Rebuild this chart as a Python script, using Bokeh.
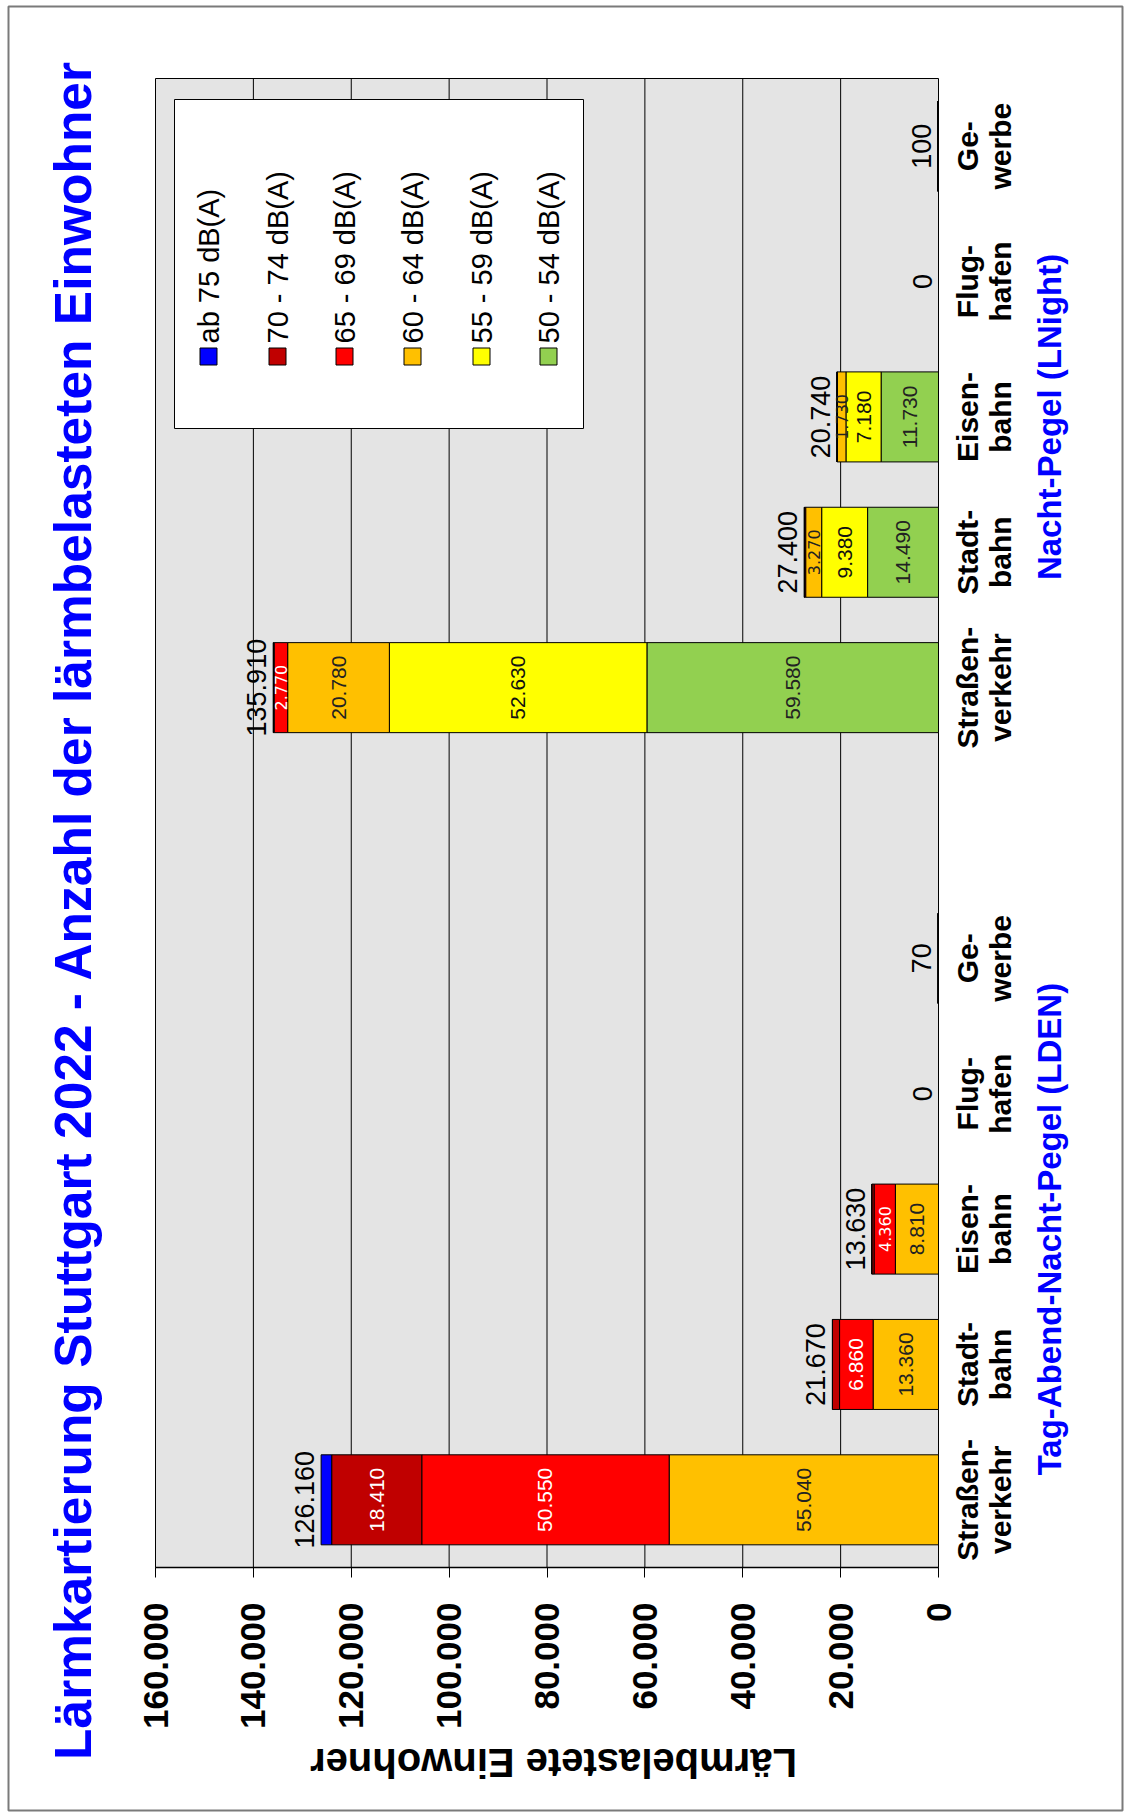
import math
from bokeh.plotting import figure
from bokeh.models import (ColumnDataSource, Range1d, FixedTicker, LinearAxis,
                          CustomJSTickFormatter)
from bokeh.core.properties import value
from bokeh.embed import file_html
from bokeh.resources import INLINE

# ---------------- data ----------------
categories = ["Straßen-\nverkehr", "Stadt-\nbahn", "Eisen-\nbahn", "Flug-\nhafen", "Ge-\nwerbe"]
groups = ["Tag-Abend-Nacht-Pegel (LDEN)", "Nacht-Pegel (LNight)"]

classes = ["50 - 54 dB(A)", "55 - 59 dB(A)", "60 - 64 dB(A)",
           "65 - 69 dB(A)", "70 - 74 dB(A)", "ab 75 dB(A)"]
colors = ["#92D050", "#FFFF00", "#FFC000", "#FF0000", "#C00000", "#0000FF"]
label_colors = ["#222222", "#111111", "#222222", "#FFFFFF", "#FFFFFF", "#FFFFFF"]

#            LDEN: Str,   Stadt, Eisen, Flug, Gew | LNight: Str, Stadt, Eisen, Flug, Gew
v_50_54 = [0,     0,     0,     0, 0,     59580, 14490, 11730, 0, 100]
v_55_59 = [0,     0,     0,     0, 0,     52630,  9380,  7180, 0, 0]
v_60_64 = [55040, 13360, 8810,  0, 70,    20780,  3270,  1730, 0, 0]
v_65_69 = [50550, 6860,  4360,  0, 0,      2770,   260,   100, 0, 0]
v_70_74 = [18410, 1450,  460,   0, 0,       150,     0,     0, 0, 0]
v_ab_75 = [2160,  0,     0,     0, 0,         0,     0,     0, 0, 0]
series = [v_50_54, v_55_59, v_60_64, v_65_69, v_70_74, v_ab_75]

tick_values = [0, 20000, 40000, 60000, 80000, 100000, 120000, 140000, 160000]

title_text = "Lärmkartierung Stuttgart 2022 - Anzahl der lärmbelasteten Einwohner"
axis_title = "Lärmbelastete Einwohner"

# ---------------- helpers ----------------
def fmt(v):
    return f"{int(v):,}".replace(",", ".")

# category slots: 5 per group, one empty slot between the groups
slot_y = [g * (len(categories) + 1) + c + 0.5
          for g in range(len(groups)) for c in range(len(categories))]
slot_lab = [c for g in groups for c in categories]
group_y = [g * (len(categories) + 1) + len(categories) / 2 for g in range(len(groups))]
NSLOT = len(groups) * len(categories) + len(groups) - 1

W, H = 1126, 1814
FX0, FX1, FY0, FY1 = 155, 938, 78, 1567      # plot area in page pixels
XMAX = tick_values[-1]
def px2x(px):
    return (FX1 - px) * XMAX / (FX1 - FX0)
def py2y(py):
    return (FY1 - py) * NSLOT / (FY1 - FY0)

# ---------------- figure (frame = whole canvas) ----------------
p = figure(width=W, height=H,
           x_range=Range1d(px2x(0), px2x(W)),
           y_range=Range1d(py2y(H), py2y(0)),
           x_axis_location=None, y_axis_location=None,
           output_backend="svg", toolbar_location=None,
           min_border_left=0, min_border_right=0,
           min_border_top=0, min_border_bottom=0)
p.title.visible = False
p.grid.visible = False
p.background_fill_color = "white"
p.border_fill_color = "white"
p.outline_line_color = None

# outer frame
p.quad(left=px2x(8), right=px2x(1122), top=py2y(6), bottom=py2y(1810),
       fill_color=None, line_color="#7a7a7a", line_width=2)

# plot area and grid lines
p.quad(left=XMAX, right=0, bottom=0, top=NSLOT,
       fill_color="#e4e4e4", line_color="black", line_width=1)
p.segment(x0=tick_values[1:-1], x1=tick_values[1:-1],
          y0=[0] * (len(tick_values) - 2), y1=[NSLOT] * (len(tick_values) - 2),
          line_color="black", line_width=1)

# value axis (bottom of plot area)
xa = LinearAxis(ticker=FixedTicker(ticks=tick_values), fixed_location=0,
                bounds=(0, XMAX))
xa.formatter = CustomJSTickFormatter(
    code=r"return tick.toFixed(0).replace(/\B(?=(\d{3})+(?!\d))/g, '.');")
xa.major_label_orientation = math.pi / 2
xa.major_label_text_font = "Liberation Sans"
xa.major_label_text_font_style = "bold"
xa.major_label_text_font_size = "35px"
xa.major_label_text_color = "black"
xa.major_label_standoff = 25
xa.major_tick_out = 10
xa.major_tick_in = 0
xa.major_tick_line_color = "black"
xa.minor_tick_line_color = None
xa.axis_line_color = "black"
xa.axis_line_width = 1.5
p.add_layout(xa, "below")

# ---------------- stacked bars ----------------
src_data = {"y": slot_y}
for cls, vals in zip(classes, series):
    src_data[cls] = vals
src = ColumnDataSource(src_data)
p.hbar_stack(classes, y="y", height=0.665, fill_color=colors,
             line_color="black", line_width=1, source=src)

# segment labels
big = dict(x=[], y=[], text=[], color=[])
small = dict(x=[], y=[], text=[], color=[])
for i, yy in enumerate(slot_y):
    base = 0
    for cls, vals, tc in zip(classes, series, label_colors):
        v = vals[i]
        if v >= 1700 and cls != "ab 75 dB(A)":
            d = small if v < 5000 else big
            d["x"].append(base + v / 2)
            d["y"].append(yy)
            d["text"].append(fmt(v))
            d["color"].append(tc)
        base += v
p.text(x="x", y="y", text="text", source=ColumnDataSource(big),
       angle=math.pi / 2, text_align="center", text_baseline="middle",
       text_color="color", text_font=value("Liberation Sans"), text_font_size="21px")
p.text(x="x", y="y", text="text", source=ColumnDataSource(small),
       angle=math.pi / 2, text_align="center", text_baseline="middle",
       text_color="color", text_font=value("DejaVu Sans"), text_font_size="16px")

# totals
totals = [sum(s[i] for s in series) for i in range(len(slot_y))]
tot = ColumnDataSource(dict(x=totals, y=slot_y, text=[fmt(t) for t in totals]))
p.text(x="x", y="y", text="text", source=tot, angle=math.pi / 2,
       text_align="center", text_baseline="bottom", x_offset=-7,
       text_color="black", text_font=value("Liberation Sans"),
       text_font_size="27px")

# ---------------- category and group labels (right of the plot) ----------------
for line_no, px in enumerate((967, 1000)):
    p.text(x=[px2x(px)] * len(slot_y), y=slot_y,
           text=[lab.split("\n")[line_no] for lab in slot_lab],
           angle=math.pi / 2, text_align="center", text_baseline="middle",
           text_color="black", text_font=value("Liberation Sans"),
           text_font_style="bold", text_font_size="30px")
p.text(x=[px2x(1049)] * len(group_y), y=group_y, text=groups,
       angle=math.pi / 2, text_align="center", text_baseline="middle",
       text_color="#0000FF", text_font=value("Liberation Sans"),
       text_font_style="bold", text_font_size="33px")

# ---------------- legend (drawn rotated like the chart) ----------------
p.quad(left=px2x(174), right=px2x(583), top=py2y(99), bottom=py2y(428),
       fill_color="white", line_color="black", line_width=1)
leg_x = [px2x(v) for v in (208, 277, 344, 412, 481, 548)]
leg_names = classes[::-1]
leg_cols = colors[::-1]
p.rect(x=leg_x, y=[py2y(356)] * 6, width=17, height=17,
       width_units="screen", height_units="screen",
       fill_color=leg_cols, line_color="black", line_width=1)
p.text(x=leg_x, y=[py2y(343)] * 6, text=leg_names, angle=math.pi / 2,
       text_align="left", text_baseline="middle", text_color="black",
       text_font=value("Liberation Sans"), text_font_size="29px")

# ---------------- titles ----------------
p.text(x=[px2x(72)], y=[py2y(909.5)], text=[title_text], angle=math.pi / 2,
       text_align="center", text_baseline="middle",
       text_font=value("Liberation Sans"), text_font_style="bold",
       text_font_size="51.5px", text_color="#0000FF")
p.text(x=[px2x(553)], y=[py2y(1762)], text=[axis_title], angle=math.pi,
       text_align="center", text_baseline="middle",
       text_font=value("Liberation Sans"), text_font_style="bold",
       text_font_size="40px", text_color="black")

open("out.html", "w").write(file_html(p, INLINE))
